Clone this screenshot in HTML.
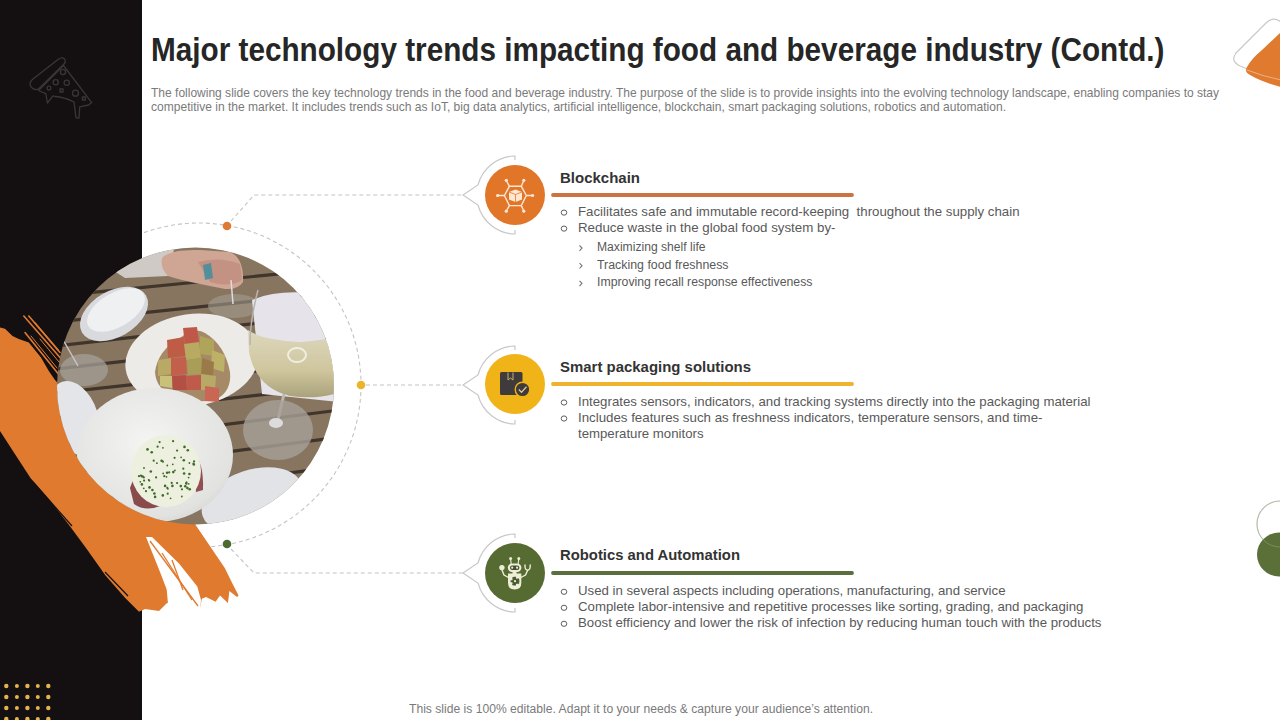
<!DOCTYPE html>
<html><head><meta charset="utf-8">
<title>Major technology trends impacting food and beverage industry</title>
<style>
*{margin:0;padding:0;box-sizing:border-box}
html,body{width:1280px;height:720px;overflow:hidden;background:#fff}
body{position:relative;font-family:"Liberation Sans",sans-serif}
.t{position:absolute;white-space:nowrap;line-height:1;transform-origin:0 0}
</style></head>
<body>
<svg width="1280" height="720" viewBox="0 0 1280 720" style="position:absolute;left:0;top:0">
<defs>
  <clipPath id="rc"><rect x="142" y="0" width="400" height="720"/></clipPath>
  <clipPath id="pc"><circle cx="195.5" cy="386" r="138.5"/></clipPath>
  <linearGradient id="wineg" x1="0" y1="0" x2="0" y2="1"><stop offset="0" stop-color="#ddd7bd"/><stop offset="0.6" stop-color="#cfc69e"/><stop offset="1" stop-color="#aaa27a"/></linearGradient>
  <radialGradient id="bowlg" cx="0.45" cy="0.4" r="0.7">
    <stop offset="0" stop-color="#f4f4f2"/><stop offset="0.8" stop-color="#e2e2e0"/><stop offset="1" stop-color="#d0cfcc"/>
  </radialGradient>
</defs>
<!-- dark panel -->
<rect x="0" y="0" width="142" height="720" fill="#141012"/>
<!-- pizza icon -->
<g fill="none" stroke="#3a3537" stroke-width="1.3" stroke-linecap="round" stroke-linejoin="round">
  <path d="M30.5 86 Q29 82 33 79 L58 59.5 Q62 56.5 64.5 59 Q66.5 62 63.5 64.5 L39 88.5 Q34 91.5 30.5 86 Z"/>
  <path d="M38.5 90.5 L63.5 65.5 L91.7 102.6 L88.5 105 L79.7 106.8 L79 118 L76 117.7 L74 102 Q64 97 55 96.5 L53 95.8 L47.4 103 L45.8 93.7 Z"/>
  <circle cx="63" cy="72" r="2.6"/>
  <circle cx="55.7" cy="82.3" r="2.6"/>
  <circle cx="66.7" cy="82.8" r="2.6"/>
  <circle cx="49" cy="88" r="1.9"/>
  <rect x="60" y="89" width="3" height="3"/>
  <circle cx="75.5" cy="93.2" r="3"/>
  <rect x="82.4" y="97" width="3" height="3"/>
</g>
<!-- gold dots -->
<g fill="#e6b44c">
  <circle cx="6.3" cy="686" r="2.2"/><circle cx="16.9" cy="686" r="2"/><circle cx="27.4" cy="686" r="2.2"/><circle cx="37.8" cy="686" r="2"/><circle cx="48.3" cy="686" r="2.2"/>
  <circle cx="6.3" cy="697" r="2.2"/><circle cx="16.9" cy="697" r="2"/><circle cx="27.4" cy="697" r="2.2"/><circle cx="37.8" cy="697" r="2"/><circle cx="48.3" cy="697" r="2.2"/>
  <circle cx="6.3" cy="708" r="2.2"/><circle cx="16.9" cy="708" r="2"/><circle cx="27.4" cy="708" r="2.2"/><circle cx="37.8" cy="708" r="2"/><circle cx="48.3" cy="708" r="2.2"/>
  <circle cx="6.3" cy="719" r="2.2"/><circle cx="16.9" cy="719" r="2"/><circle cx="27.4" cy="719" r="2.2"/><circle cx="37.8" cy="719" r="2"/><circle cx="48.3" cy="719" r="2.2"/>
</g>
<!-- dashed big circle -->
<circle cx="199" cy="385" r="162" fill="none" stroke="#c4c4c4" stroke-width="1.1" stroke-dasharray="4 3" clip-path="url(#rc)"/>
<!-- brush stroke -->
<path d="M0 327.5 L5 328.8 L12.5 336 L18.8 339 L28.8 342.5 L41 357.5 L48.8 371 L55 380 L150 480 L191 518 L197 527 L212.6 550 L224.8 568 L232.4 583.4 L238.6 595.6 L237 597 L229.4 591 L227.9 603 L220 595.6 L215.6 601.7 L206 597 L201.9 598.7 L200 608 L167 603 L159 611 L145 609 L139 611.7 L125 597.8 L105.5 575.5 L86 548 L69.4 525.5 L50 500.5 L30.5 478 L11 448 L0 431 Z" fill="#e07a2f"/>
<g stroke="#e07a2f" stroke-width="1.6" fill="none" stroke-linecap="round">
  <path d="M23.8 316 L60 357.5"/>
  <path d="M28.8 316 L60 352.5"/>
  <path d="M25 332.5 L60 376"/>
  <path d="M35 323 L58 350"/>
  <path d="M31 336 L57 368" stroke-width="1"/>
  <path d="M40 339 L59 362" stroke-width="1"/>
</g>
<g stroke="#141012" stroke-width="1.2" fill="none">
  <path d="M33 482 L72 526"/>
  <path d="M105 572 L128 596"/>
</g>
<path d="M146 537 L152 537 L179 563.5 L197.3 586.5 L201 600 L200 612 L168 604 L166.7 589.5 L160 572 Z" fill="#ffffff"/>
<g stroke="#e07a2f" stroke-width="1.3" fill="none">
  <path d="M150 541 L198 606"/>
  <path d="M162 553 L192 600"/>
  <path d="M172 560 L183 590"/>
</g>
<!-- photo -->
<g clip-path="url(#pc)">
  <rect x="55" y="245" width="285" height="285" fill="#877560"/>
  <!-- slat gaps -->
  <g stroke="#3f352b" stroke-width="3.2" fill="none">
    <path d="M55 296 L340 268"/>
    <path d="M55 322 L340 292"/>
    <path d="M55 346 L340 314"/>
    <path d="M55 369 L340 337"/>
    <path d="M55 393 L340 362"/>
    <path d="M55 418 L340 386"/>
    <path d="M55 446 L340 410"/>
    <path d="M55 475 L340 437"/>
    <path d="M55 505 L340 466"/>
  </g>
  <!-- cloth top-left -->
  <path d="M110 245 L175 245 L168 276 L125 278 L100 262 Z" fill="#cfcac6"/>
  <!-- hand -->
  <path d="M162 258 Q170 249 200 250 L230 252 Q244 258 243 282 Q238 290 225 289 L200 284 Q180 280 168 276 Q160 268 162 258 Z" fill="#cfa593"/>
  <path d="M198 262 Q220 256 240 264 L242 280 Q230 288 210 282 Z" fill="#b98474" opacity="0.55"/>
  <path d="M203 265 L211 263 L213 278 L205 280 Z" fill="#3f8ea0" opacity="0.85"/>
  <!-- small glass top center -->
  <ellipse cx="234" cy="306" rx="26" ry="12" fill="#a39b90" opacity="0.6"/>
  <path d="M231 280 L233 304" stroke="#dcdcdc" stroke-width="1.5"/>
  <!-- top-left small bowl -->
  <ellipse cx="114" cy="314" rx="37" ry="23" transform="rotate(-30 114 314)" fill="#d9dadd"/>
  <ellipse cx="116" cy="310" rx="32" ry="17" transform="rotate(-30 116 310)" fill="#eef0f2"/>
  <!-- left glass base -->
  <ellipse cx="84" cy="370" rx="24" ry="16" fill="#a49f98" opacity="0.75"/>
  <path d="M62 338 L78 366" stroke="#c9c6c2" stroke-width="1.5"/>
  <!-- left partial bowl -->
  <ellipse cx="74" cy="418" rx="24" ry="38" transform="rotate(-18 74 418)" fill="#e4e5e8"/>
  <!-- paper right -->
  <path d="M252 300 Q275 290 310 293 Q330 300 340 310 L340 402 L262 394 Z" fill="#e6e4ea"/>
  <!-- tomato bowl -->
  <ellipse cx="192" cy="360" rx="67" ry="46" transform="rotate(-8 192 360)" fill="#ecebe7"/>
  <path d="M155 372 Q158 350 180 338 Q195 326 205 333 Q225 345 230 372 Q232 392 215 400 Q195 404 175 396 Q156 390 155 372 Z" fill="#8f6a3c" opacity="0.75"/>
  <g>
    <path d="M183 328 L197 327 L199 343 L185 345 Z" fill="#c0584a"/>
    <path d="M167 340 L184 337 L186 356 L168 358 Z" fill="#bf5c46"/>
    <path d="M184 344 L199 342 L201 358 L186 360 Z" fill="#b9aa62"/>
    <path d="M200 336 L214 340 L214 356 L200 354 Z" fill="#b0a35a"/>
    <path d="M212 350 L225 355 L224 372 L211 368 Z" fill="#bdb168"/>
    <path d="M158 360 L172 358 L172 374 L158 376 Z" fill="#b8a965"/>
    <path d="M171 358 L186 357 L187 374 L171 376 Z" fill="#c2604c"/>
    <path d="M187 360 L202 358 L203 374 L188 375 Z" fill="#a99e58"/>
    <path d="M202 358 L214 362 L213 376 L201 374 Z" fill="#9b7a4a"/>
    <path d="M172 376 L186 375 L187 390 L173 390 Z" fill="#b44f45"/>
    <path d="M186 376 L201 375 L201 390 L187 390 Z" fill="#c05a4a"/>
    <path d="M201 374 L216 376 L215 390 L201 390 Z" fill="#b7aa66"/>
    <path d="M205 386 L219 388 L219 402 L205 401 Z" fill="#c96754"/>
    <path d="M160 376 L172 376 L172 388 L160 386 Z" fill="#c9c07a"/>
  </g>
  <!-- wine glass right -->
  <path d="M248 330 Q262 340 300 342 Q325 340 340 336 L340 392 Q318 400 290 396 Q256 388 249 352 Z" fill="url(#wineg)"/>
  <ellipse cx="297" cy="355" rx="9" ry="7" fill="none" stroke="#efeee0" stroke-width="2"/>
  <path d="M258 290 Q250 320 250 345" stroke="#b8b3ad" stroke-width="1.5" fill="none"/>
  <path d="M284 394 L276 428" stroke="#bcb9b4" stroke-width="3"/>
  <ellipse cx="278" cy="430" rx="35" ry="30" fill="#a7a199" opacity="0.8"/>
  <ellipse cx="276" cy="423" rx="7" ry="5" fill="#dcdcdc"/>
  <!-- bottom right small bowl -->
  <ellipse cx="252" cy="500" rx="52" ry="30" transform="rotate(-18 252 500)" fill="#e1e3e7"/>
  <!-- big bowl -->
  <ellipse cx="155" cy="455" rx="78" ry="67" fill="url(#bowlg)"/>
  <path d="M130 488 Q136 470 150 468 L160 506 Q145 512 134 504 Z" fill="#7e3a3a" opacity="0.9"/><path d="M192 452 Q204 460 203 490 L196 492 Z" fill="#8a3d40" opacity="0.9"/>
  <ellipse cx="166" cy="471" rx="35" ry="36" fill="#eef0df"/>
  <g fill="#3f6a2a"><circle cx="167.7" cy="493.7" r="1.1"/><circle cx="183.8" cy="460.3" r="1.3"/><circle cx="169.2" cy="472.4" r="1.1"/><circle cx="165.1" cy="485.9" r="1.3"/><circle cx="139.0" cy="476.2" r="1.1"/><circle cx="143.8" cy="488.3" r="0.9"/><circle cx="147.5" cy="449.4" r="1.3"/><circle cx="163.2" cy="473.4" r="0.9"/><circle cx="181.8" cy="496.5" r="0.9"/><circle cx="164.3" cy="476.2" r="1.1"/><circle cx="140.9" cy="475.5" r="1.1"/><circle cx="159.6" cy="442.1" r="1.1"/><circle cx="162.9" cy="447.8" r="0.9"/><circle cx="172.8" cy="464.3" r="0.9"/><circle cx="150.8" cy="471.5" r="1.3"/><circle cx="144.1" cy="480.6" r="1.1"/><circle cx="141.9" cy="484.4" r="1.3"/><circle cx="152.4" cy="490.0" r="1.3"/><circle cx="167.9" cy="488.8" r="0.9"/><circle cx="184.5" cy="446.9" r="1.3"/><circle cx="157.6" cy="446.7" r="1.1"/><circle cx="193.8" cy="464.5" r="1.3"/><circle cx="185.3" cy="486.2" r="1.3"/><circle cx="177.1" cy="450.6" r="1.1"/><circle cx="180.8" cy="486.1" r="1.3"/><circle cx="174.9" cy="470.4" r="0.9"/><circle cx="156.1" cy="477.4" r="1.1"/><circle cx="148.7" cy="479.8" r="0.9"/><circle cx="188.6" cy="477.6" r="0.9"/><circle cx="149.5" cy="487.4" r="1.3"/><circle cx="187.8" cy="450.2" r="1.3"/><circle cx="166.5" cy="476.8" r="0.9"/><circle cx="186.6" cy="482.1" r="0.9"/><circle cx="194.1" cy="461.4" r="1.1"/><circle cx="156.9" cy="463.2" r="0.9"/><circle cx="183.3" cy="468.7" r="1.1"/><circle cx="193.5" cy="463.5" r="1.1"/><circle cx="146.0" cy="491.2" r="1.1"/><circle cx="151.7" cy="452.3" r="1.3"/><circle cx="189.7" cy="489.3" r="1.3"/><circle cx="162.8" cy="495.4" r="1.3"/><circle cx="167.3" cy="487.9" r="1.1"/><circle cx="144.0" cy="468.0" r="0.9"/><circle cx="173.1" cy="441.2" r="1.1"/><circle cx="189.4" cy="474.0" r="1.3"/><circle cx="182.0" cy="489.3" r="1.1"/><circle cx="141.8" cy="476.4" r="1.1"/><circle cx="153.7" cy="460.7" r="1.1"/><circle cx="173.3" cy="472.1" r="1.3"/><circle cx="184.1" cy="473.5" r="1.3"/><circle cx="143.8" cy="477.4" r="1.1"/><circle cx="171.7" cy="482.9" r="1.1"/><circle cx="174.6" cy="457.8" r="1.1"/><circle cx="187.4" cy="488.1" r="1.3"/><circle cx="161.6" cy="460.8" r="1.3"/><circle cx="170.6" cy="498.3" r="0.9"/><circle cx="154.4" cy="493.5" r="1.3"/><circle cx="162.9" cy="461.7" r="1.1"/><circle cx="189.4" cy="463.0" r="0.9"/><circle cx="140.3" cy="481.8" r="0.9"/><circle cx="188.7" cy="483.8" r="0.9"/><circle cx="181.1" cy="457.3" r="0.9"/><circle cx="167.3" cy="465.5" r="0.9"/><circle cx="155.1" cy="496.9" r="1.3"/><circle cx="172.4" cy="485.9" r="1.3"/><circle cx="186.3" cy="483.4" r="1.3"/><circle cx="177.1" cy="483.1" r="1.1"/><circle cx="142.7" cy="476.4" r="1.1"/><circle cx="149.2" cy="480.6" r="1.1"/><circle cx="167.1" cy="472.8" r="1.3"/></g>
</g>
<!-- colored dots on circle -->
<circle cx="227" cy="226" r="4.3" fill="#dd7b34"/>
<circle cx="361" cy="385" r="4.3" fill="#ebb42a"/>
<circle cx="227" cy="544" r="4.3" fill="#4d6a32"/>
<!-- connectors -->
<g fill="none" stroke="#c4c4c4" stroke-width="1.1" stroke-dasharray="4 3">
  <path d="M231 221 L254 195 L463 195"/>
  <path d="M366 385 L463 385"/>
  <path d="M231 549 L254 573 L463 573"/>
</g>
<!-- brackets -->
<g fill="none" stroke="#c8c8c8" stroke-width="1.2">
  <path d="M515 160 L515 156 A39 39 0 0 0 478 185 L463 195 L478 205 A39 39 0 0 0 515 234 L515 230"/>
  <path d="M515 350 L515 346 A39 39 0 0 0 478 375 L463 385 L478 395 A39 39 0 0 0 515 424 L515 420"/>
  <path d="M515 538 L515 534 A39 39 0 0 0 478 563 L463 573 L478 583 A39 39 0 0 0 515 612 L515 608"/>
</g>
<!-- icon circles -->
<circle cx="515" cy="195" r="30" fill="#e27628"/>
<circle cx="515" cy="384" r="30" fill="#f1b418"/>
<circle cx="515" cy="573" r="30" fill="#566b31"/>
<!-- blockchain glyph -->
<g stroke="#fde6d2" stroke-width="1.4" fill="none">
  <path d="M504.4 195.5 L509.4 186.3 L521.3 186.3 L526.3 195.5 L521.3 205.6 L509.4 205.6 Z"/>
  <path d="M509.4 186.3 L506.3 180.5 M521.3 186.3 L523.8 180.5 M504.4 195.5 L497.8 195.5 M526.3 195.5 L532.5 195.5 M509.4 205.6 L506.3 211 M521.3 205.6 L523.8 211"/>
</g>
<g fill="#fde6d2">
  <circle cx="506.3" cy="180.3" r="1.6"/><circle cx="523.8" cy="180.3" r="1.6"/><circle cx="497.6" cy="195.5" r="1.6"/><circle cx="532.6" cy="195.5" r="1.6"/><circle cx="506.3" cy="211.2" r="1.6"/><circle cx="523.8" cy="211.2" r="1.6"/>
  <path d="M515.5 189.5 L522 192 L522 199.5 L515.5 202 L509 199.5 L509 192 Z"/>
</g>
<path d="M509 192 L515.5 194.5 L522 192 M515.5 194.5 L515.5 202" stroke="#e27628" stroke-width="0.8" fill="none"/>
<!-- packaging glyph -->
<rect x="500" y="372" width="22.5" height="23" rx="1.5" fill="#3f3a3c"/>
<path d="M508 372.5 L508 380 L510.5 378 L513 380 L513 372.5" stroke="#c8b16a" stroke-width="1" fill="none"/>
<circle cx="522.5" cy="389.5" r="7.3" fill="#3f3a3c" stroke="#f1b418" stroke-width="1.4"/>
<path d="M518.8 389.5 L521.5 392.3 L526.5 386.8" stroke="#d9c88a" stroke-width="1.3" fill="none"/>
<!-- robot glyph -->
<g fill="#eeeed8">
  <path d="M511.2 564 L510.6 559 M518.1 564 L518.8 559" stroke="#eeeed8" stroke-width="1.1" fill="none"/>
  <circle cx="510.6" cy="558.6" r="1.5"/><circle cx="518.8" cy="558.6" r="1.5"/>
  <rect x="507.8" y="563.4" width="13.6" height="8.6" rx="4.2"/>
  <rect x="512.5" y="571" width="4" height="3"/>
  <path d="M508 573.6 L521.3 573.6 L521.3 583 Q521.3 589.5 514.6 589.5 Q508 589.5 508 583 Z"/>
  <path d="M508.5 577.5 L504 575 L502 570" stroke="#eeeed8" stroke-width="1.4" fill="none" stroke-linecap="round"/>
  <circle cx="501.9" cy="567.6" r="2.7"/>
  <path d="M520.8 577.5 L525.5 575 L527.6 570.5" stroke="#eeeed8" stroke-width="1.4" fill="none" stroke-linecap="round"/>
  <path d="M525 565 Q524.6 570 527.6 570.2 Q530.6 570 530.2 565" stroke="#eeeed8" stroke-width="1.4" fill="none" stroke-linecap="round"/>
</g>
<rect x="510" y="565.4" width="9.4" height="4.6" rx="2.2" fill="#45512e"/>
<circle cx="512.2" cy="567.7" r="1.1" fill="#eeeed8"/><circle cx="517.1" cy="567.7" r="1.1" fill="#eeeed8"/>
<g fill="#4a5a30">
  <circle cx="515" cy="581.2" r="2.9"/>
  <path d="M514 576.8 h2 v8.8 h-2 Z M510.6 580.2 h8.8 v2 h-8.8 Z" />
  <path d="M511.9 578.1 l1.4 -1.4 l6.2 6.2 l-1.4 1.4 Z M518.1 578.1 l1.4 1.4 l-6.2 6.2 l-1.4 -1.4 Z"/>
</g>
<circle cx="515" cy="581.2" r="1.1" fill="#eeeed8"/>
<!-- bars -->
<g stroke-linecap="round" stroke-width="3.8">
  <path d="M553 195 L852 195" stroke="#cb7441"/>
  <path d="M553 384 L852 384" stroke="#efb32e"/>
  <path d="M553 573 L852 573" stroke="#5b6e3d"/>
</g>
<!-- bullets -->
<g fill="none" stroke="#5f5f5f" stroke-width="1">
  <ellipse cx="564" cy="212.6" rx="2.8" ry="2.6"/>
  <ellipse cx="564" cy="228.6" rx="2.8" ry="2.6"/>
  <ellipse cx="564" cy="402.5" rx="2.8" ry="2.6"/>
  <ellipse cx="564" cy="418.5" rx="2.8" ry="2.6"/>
  <ellipse cx="564" cy="591.8" rx="2.8" ry="2.6"/>
  <ellipse cx="564" cy="607.8" rx="2.8" ry="2.6"/>
  <ellipse cx="564" cy="623.8" rx="2.8" ry="2.6"/>
</g>
<g fill="none" stroke="#777" stroke-width="1.1">
  <path d="M579.5 245.5 L582 248 L579.5 250.8"/>
  <path d="M579.5 263.2 L582 265.7 L579.5 268.5"/>
  <path d="M579.5 280.8 L582 283.3 L579.5 286.1"/>
</g>
<!-- top-right deco -->
<path d="M1281 22 Q1273 16 1266 23 L1236 53 Q1230 61 1240 66 L1250 70" fill="none" stroke="#c9c9c9" stroke-width="1.2"/>
<path d="M1247 67 Q1252 58 1262 50 L1281 32 L1281 87 Q1262 82 1250 75 Q1244 72 1247 67 Z" fill="#e07a2f"/>
<path d="M1247 70 Q1262 76 1281 80" fill="none" stroke="#f0b690" stroke-width="0.9"/>
<!-- right circles -->
<circle cx="1280" cy="524" r="23" fill="none" stroke="#cfcfcf" stroke-width="1.2"/>
<circle cx="1279" cy="554.5" r="22" fill="#5b7038"/>
<circle cx="1280" cy="524" r="23" fill="none" stroke="#9aa882" stroke-width="0.8" opacity="0.6"/>
</svg>
<div class="t" style="transform:scaleX(0.9141);left:151px;top:34.49px;font-size:32.5px;color:#262626;font-weight:bold;">Major technology trends impacting food and beverage industry (Contd.)</div>
<div class="t" style="transform:scaleX(0.9241);left:151px;top:85.90px;font-size:13px;color:#7a7a7a;">The following slide covers the key technology trends in the food and beverage industry. The purpose of the slide is to provide insights into the evolving technology landscape, enabling companies to stay</div>
<div class="t" style="transform:scaleX(0.9266);left:151px;top:99.70px;font-size:13px;color:#7a7a7a;">competitive in the market. It includes trends such as IoT, big data analytics, artificial intelligence, blockchain, smart packaging solutions, robotics and automation.</div>
<div class="t" style="transform:scaleX(1.0133);left:560px;top:170.97px;font-size:14.8px;color:#333333;font-weight:bold;">Blockchain</div>
<div class="t" style="transform:scaleX(1.0200);left:578px;top:204.60px;font-size:13px;color:#595959;">Facilitates safe and immutable record-keeping &nbsp;throughout the supply chain</div>
<div class="t" style="transform:scaleX(1.0240);left:578px;top:220.90px;font-size:13px;color:#595959;">Reduce waste in the global food system by-</div>
<div class="t" style="transform:scaleX(1.0105);left:597.2px;top:240.84px;font-size:12px;color:#595959;">Maximizing shelf life</div>
<div class="t" style="transform:scaleX(1.0304);left:597.2px;top:258.54px;font-size:12px;color:#595959;">Tracking food freshness</div>
<div class="t" style="transform:scaleX(1.0234);left:597.2px;top:276.14px;font-size:12px;color:#595959;">Improving recall response effectiveness</div>
<div class="t" style="transform:scaleX(1.0100);left:559.6px;top:360.07px;font-size:14.8px;color:#333333;font-weight:bold;">Smart packaging solutions</div>
<div class="t" style="transform:scaleX(1.0191);left:578px;top:394.60px;font-size:13px;color:#595959;">Integrates sensors, indicators, and tracking systems directly into the packaging material</div>
<div class="t" style="transform:scaleX(1.0220);left:578px;top:410.90px;font-size:13px;color:#595959;">Includes features such as freshness indicators, temperature sensors, and time-</div>
<div class="t" style="transform:scaleX(1.0157);left:578px;top:426.50px;font-size:13px;color:#595959;">temperature monitors</div>
<div class="t" style="transform:scaleX(1.0029);left:560px;top:548.27px;font-size:14.8px;color:#333333;font-weight:bold;">Robotics and Automation</div>
<div class="t" style="transform:scaleX(1.0165);left:578px;top:584.00px;font-size:13px;color:#595959;">Used in several aspects including operations, manufacturing, and service</div>
<div class="t" style="transform:scaleX(1.0182);left:578px;top:600.00px;font-size:13px;color:#595959;">Complete labor-intensive and repetitive processes like sorting, grading, and packaging</div>
<div class="t" style="transform:scaleX(1.0179);left:578px;top:615.90px;font-size:13px;color:#595959;">Boost efficiency and lower the risk of infection by reducing human touch with the products</div>
<div class="t" style="transform:scaleX(1.0100);left:409px;top:703.14px;font-size:12px;color:#7a7a7a;">This slide is 100% editable. Adapt it to your needs &amp; capture your audience’s attention.</div>
</body></html>
